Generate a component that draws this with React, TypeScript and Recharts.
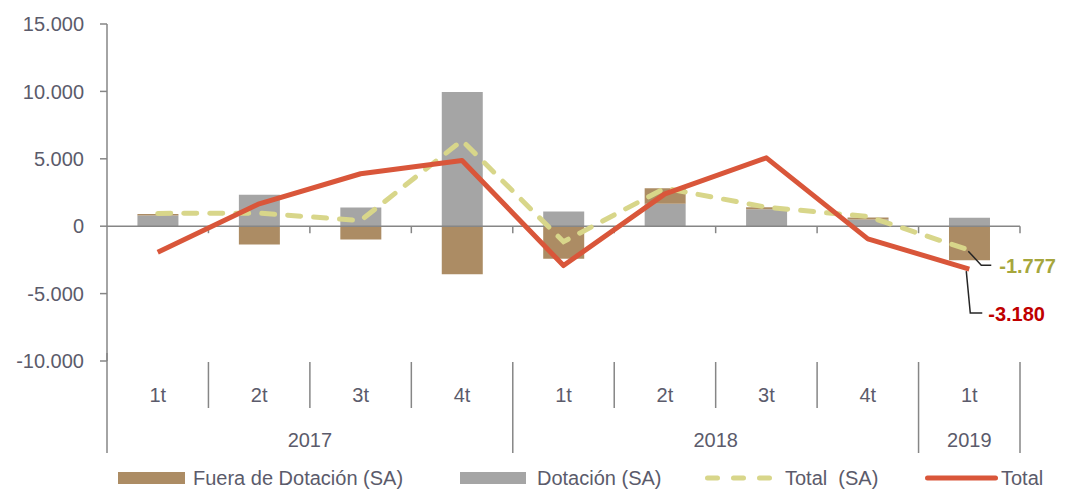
import React from 'react';
import { ComposedChart, Bar, Line, XAxis, YAxis, ReferenceLine, Legend, LabelList } from 'recharts';

const quarters = ['1t', '2t', '3t', '4t', '1t', '2t', '3t', '4t', '1t'];
const years = ['2017', '2017', '2017', '2017', '2018', '2018', '2018', '2018', '2019'];
const fueraSA = [100, -1350, -990, -3560, -2420, 1160, 150, 150, -2520];
const dotacionSA = [800, 2330, 1390, 9950, 1090, 1660, 1250, 500, 620];
const totalSA = [950, 970, 420, 6360, -1150, 2820, 1410, 720, -1777];
const total = [-1930, 1660, 3890, 4870, -2920, 2400, 5070, -940, -3180];
const yTicks = [-10000, -5000, 0, 5000, 10000, 15000];

const data = quarters.map((q, i) => ({
  id: i,
  quarter: q,
  year: years[i],
  fuera: fueraSA[i],
  dotacion: dotacionSA[i],
  totalSA: totalSA[i],
  total: total[i],
}));

const BROWN = '#AC8C64';
const GRAY = '#A5A5A5';
const DASH = '#D8D68A';
const RED = '#D9563A';
const AXIS = '#868686';
const TEXT = '#5B5B6B';
const FONT = '"Liberation Sans", Arial, sans-serif';
const FS = 20;

const fmt = (v: number) => {
  const s = String(Math.abs(Math.round(v))).replace(/\B(?=(\d{3})+(?!\d))/g, '.');
  return (v < 0 ? '-' : '') + s;
};

const CategoryTick = (props: any) => {
  const { x, y, payload } = props;
  const i = payload.value as number;
  const n = data.length;
  const band = (props.width ?? 913) / (props.visibleTicksCount ?? n);
  const right = x + band / 2;
  const left = x - band / 2;
  const yearEnd = i === n - 1 || years[i + 1] !== years[i];
  const yearStart = i === 0 || years[i - 1] !== years[i];
  let span = 1;
  if (yearStart) {
    while (i + span < n && years[i + span] === years[i]) span++;
  }
  return (
    <g>
      {i === 0 && <line x1={left} y1={y - 8} x2={left} y2={y + 92} stroke={AXIS} strokeWidth={1.5} />}
      <line x1={right} y1={y + 1} x2={right} y2={yearEnd ? y + 92 : y + 47} stroke={AXIS} strokeWidth={1.5} />
      <text x={x} y={y + 34} dy="0.35em" textAnchor="middle" fill={TEXT} fontSize={FS} fontFamily={FONT}>
        {quarters[i]}
      </text>
      {yearStart && (
        <text x={left + (span * band) / 2} y={y + 79} dy="0.35em" textAnchor="middle" fill={TEXT} fontSize={FS} fontFamily={FONT}>
          {years[i]}
        </text>
      )}
    </g>
  );
};

const ZeroTicks = (props: any) => {
  const vb = props.viewBox || {};
  const n = data.length;
  const w = vb.width ?? 913;
  const items = [];
  for (let k = 1; k <= n; k++) {
    const xx = vb.x + (k * w) / n;
    items.push(<line key={k} x1={xx} y1={vb.y} x2={xx} y2={vb.y + 7} stroke={AXIS} strokeWidth={1.5} />);
  }
  return <g>{items}</g>;
};

const lastIdx = data.length - 1;

const TotalSALabel = (p: any) => {
  if (p.index !== lastIdx) return null;
  const { x, y, value } = p;
  return (
    <g>
      <polyline points={`${x - 1},${y + 1} ${x + 12},${y + 15} ${x + 22},${y + 15}`} fill="none" stroke="#262626" strokeWidth={1.5} />
      <text x={x + 30} y={y + 16} dy="0.35em" fill="#A6A63C" fontWeight="bold" fontSize={FS} fontFamily={FONT}>
        {fmt(value)}
      </text>
    </g>
  );
};

const TotalLabel = (p: any) => {
  if (p.index !== lastIdx) return null;
  const { x, y, value } = p;
  return (
    <g>
      <polyline points={`${x - 3},${y + 2} ${x + 1},${y + 44} ${x + 13},${y + 44}`} fill="none" stroke="#262626" strokeWidth={1.5} />
      <text x={x + 19} y={y + 45} dy="0.35em" fill="#C00000" fontWeight="bold" fontSize={FS} fontFamily={FONT}>
        {fmt(value)}
      </text>
    </g>
  );
};

const LegendContent = () => (
  <svg width={1057} height={36} style={{ display: 'block' }}>
    <rect x={110} y={19} width={67} height={12} fill={BROWN} />
    <text x={185} y={25} dy="0.35em" fill={TEXT} fontSize={FS} fontFamily={FONT}>Fuera de Dotación (SA)</text>
    <rect x={452} y={19} width={66} height={12} fill={GRAY} />
    <text x={529} y={25} dy="0.35em" fill={TEXT} fontSize={FS} fontFamily={FONT}>Dotación (SA)</text>
    <line x1={699.5} y1={25} x2={761.5} y2={25} stroke={DASH} strokeWidth={5} strokeDasharray="10 16" strokeLinecap="round" />
    <text x={777} y={25} dy="0.35em" fill={TEXT} fontSize={FS} fontFamily={FONT} style={{ whiteSpace: 'pre' }}>{'Total  (SA)'}</text>
    <line x1={919.5} y1={25} x2={987.5} y2={25} stroke={RED} strokeWidth={5} strokeLinecap="round" />
    <text x={993} y={25} dy="0.35em" fill={TEXT} fontSize={FS} fontFamily={FONT}>Total</text>
  </svg>
);

export default function App() {
  return (
    <ComposedChart
      width={1057}
      height={481}
      data={data}
      margin={{ top: 16, right: 45, bottom: 0, left: 0 }}
      stackOffset="sign"
      barCategoryGap="30%"
    >
      <XAxis
        dataKey="id"
        axisLine={false}
        tickLine={false}
        tickSize={0}
        tickMargin={0}
        height={92}
        interval={0}
        tick={<CategoryTick />}
      />
      <YAxis
        width={99}
        domain={[-10000, 15000]}
        ticks={yTicks}
        interval={0}
        tickFormatter={fmt}
        axisLine={{ stroke: AXIS, strokeWidth: 1.5 }}
        tickLine={{ stroke: AXIS, strokeWidth: 1.5 }}
        tickSize={7}
        tickMargin={16}
        tick={{ fill: TEXT, fontSize: FS, fontFamily: FONT }}
      />
      <Legend
        verticalAlign="bottom"
        content={<LegendContent />}
        wrapperStyle={{ left: 0, width: 1057, height: 36 }}
      />
      <Bar dataKey="dotacion" stackId="a" fill={GRAY} isAnimationActive={false} />
      <Bar dataKey="fuera" stackId="a" fill={BROWN} isAnimationActive={false} />
      <ReferenceLine y={0} stroke={AXIS} strokeWidth={1.5} label={<ZeroTicks />} />
      <Line
        type="linear"
        dataKey="totalSA"
        stroke={DASH}
        strokeWidth={5}
        strokeDasharray="13 13"
        strokeLinecap="round"
        dot={false}
        activeDot={false}
        isAnimationActive={false}
      >
        <LabelList dataKey="totalSA" content={<TotalSALabel />} />
      </Line>
      <Line
        type="linear"
        dataKey="total"
        stroke={RED}
        strokeWidth={5}
        strokeLinejoin="round"
        dot={false}
        activeDot={false}
        isAnimationActive={false}
      >
        <LabelList dataKey="total" content={<TotalLabel />} />
      </Line>
    </ComposedChart>
  );
}
